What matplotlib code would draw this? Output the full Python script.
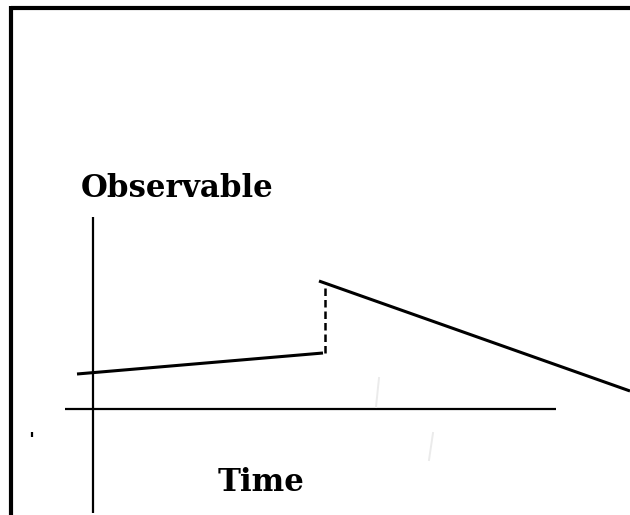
import matplotlib
matplotlib.use("Agg")
import matplotlib.pyplot as plt
from matplotlib.lines import Line2D

# Schematic data (arbitrary units; origin at the axis crossing)
before_time = [-16, 230]
before_obs = [35, 56]
jump_time = [232, 232]
jump_obs = [56, 122]
after_time = [226, 537]
after_obs = [128, 18]

time_axis = [-28, 463]
obs_axis = [-104, 192]

x_label = "Time"
y_label = "Observable"

fig = plt.figure(figsize=(6.3, 5.15), dpi=100)
ax = fig.add_axes([0, 0, 1, 1])
ax.set_xlim(-93, 537)
ax.set_ylim(-106, 409)
ax.axis("off")

# frame (top and left edges)
fig.add_artist(Line2D([11/630, 1.01], [1 - 8/515, 1 - 8/515], transform=fig.transFigure,
                      color="black", lw=3.0, solid_capstyle="butt"))
fig.add_artist(Line2D([11/630, 11/630], [-0.01, 1 - 6/515], transform=fig.transFigure,
                      color="black", lw=3.0, solid_capstyle="butt"))

# axes
ax.plot(time_axis, [0, 0], color="black", lw=1.6, solid_capstyle="butt")
ax.plot([0, 0], obs_axis, color="black", lw=1.6, solid_capstyle="butt")

# signal
ax.plot(before_time, before_obs, color="black", lw=2.2, solid_capstyle="butt")
ax.plot(jump_time, jump_obs, color="black", lw=1.8, ls=(0, (3, 1.6)))
ax.plot(after_time, after_obs, color="black", lw=2.2, solid_capstyle="butt")

# small stray mark and faint slashes
ax.plot([-61, -61], [-23, -28], color="black", lw=1.6, solid_capstyle="butt")
ax.plot([286, 283], [31, 2], color="#ebebeb", lw=1.4)
ax.plot([340, 336], [-24, -51], color="#ebebeb", lw=1.4)

ax.text(-12, 212, y_label, fontsize=22.2, fontweight="bold", family="DejaVu Serif",
        ha="left", va="baseline")
ax.text(125, -82, x_label, fontsize=22.2, fontweight="bold", family="DejaVu Serif",
        ha="left", va="baseline")

fig.savefig("out.png", dpi=100)
